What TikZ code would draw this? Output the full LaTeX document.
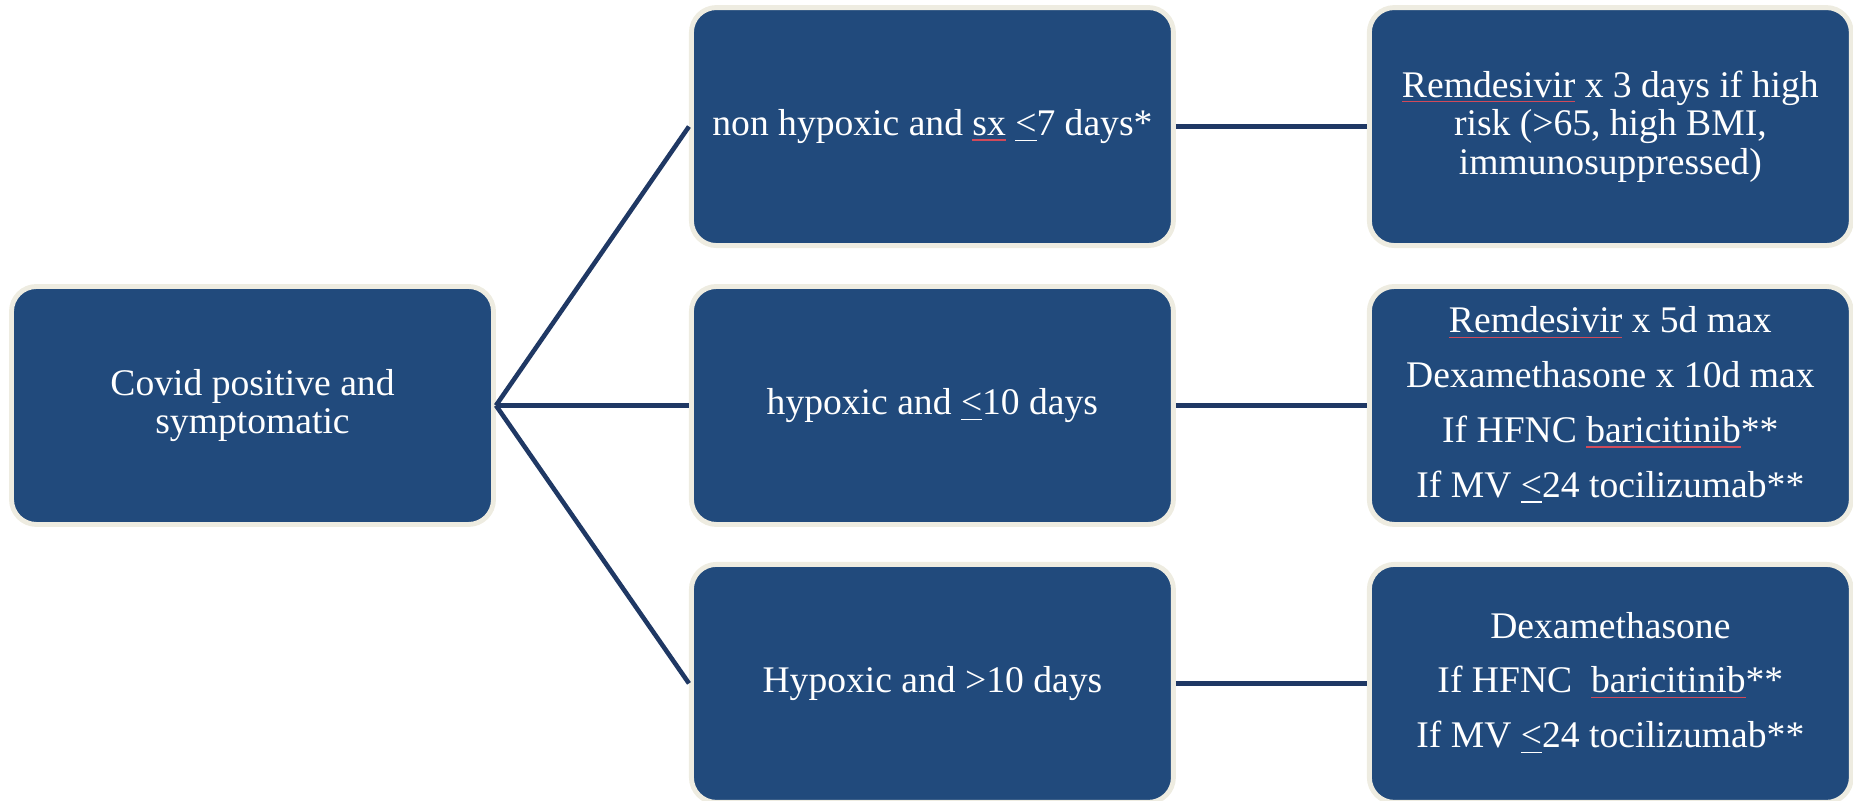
\documentclass[tikz,border=0pt]{standalone}
\usepackage{fontspec}
\setmainfont{Liberation Serif}
\usepackage{tikz}
\usetikzlibrary{positioning}

\definecolor{boxblue}{HTML}{214A7C}
\definecolor{boxrim}{HTML}{EEECE1}
\definecolor{linknavy}{HTML}{1F3864}
\definecolor{spellred}{HTML}{D04A5A}

\newsavebox{\spellbox}
\newcommand{\spellmark}[1]{\sbox{\spellbox}{#1}\rlap{\textcolor{spellred}{\rule[-0.3ex]{\wd\spellbox}{0.35pt}}}\usebox{\spellbox}}
\newcommand{\ule}{\underline{<}}

\tikzset{
	stepbox/.style={draw=boxrim, line width=1.4pt, fill=boxblue,
		rounded corners=0.25cm, minimum width=4.82cm, minimum height=2.38cm,
		text=white, align=center, font=\fontsize{10.7pt}{11pt}\selectfont},
	link/.style={draw=linknavy, line width=1.3pt}
}

\begin{document}
\begin{tikzpicture}
	\useasboundingbox (0,0) rectangle (18.53,8.01);

	% first column
	\node [stepbox] (covid) at (2.525,3.955)
	{
		Covid positive and\\
		symptomatic
	};

	% second column
	\node [stepbox, right=1.93cm of covid] (hypox)
	{hypoxic and \ule10 days};
	\node [stepbox, above=0.36cm of hypox] (nonhypox)
	{non hypoxic and \spellmark{sx} \ule7 days*};
	\node [stepbox, below=0.35cm of hypox] (latehypox)
	{Hypoxic and >10 days};

	% third column
	\node [stepbox, right=1.91cm of nonhypox] (rxnonhypox)
	{
		\spellmark{Remdesivir} x 3 days if high\\
		risk (>65, high BMI,\\
		immunosuppressed)
	};
	\node [stepbox, right=1.91cm of hypox] (rxhypox)
	{
		\spellmark{Remdesivir} x 5d max\\[4.6pt]
		Dexamethasone x 10d max\\[4.6pt]
		If HFNC \spellmark{baricitinib}**\\[4.6pt]
		If MV \ule24 tocilizumab**
	};
	\node [stepbox, right=1.91cm of latehypox] (rxlatehypox)
	{
		Dexamethasone\\[4.6pt]
		If HFNC\ \ \spellmark{baricitinib}**\\[4.6pt]
		If MV \ule24 tocilizumab**
	};

	% connectors
	\draw [link] (covid.east) -- (nonhypox.west);
	\draw [link] (covid.east) -- (hypox.west);
	\draw [link] (covid.east) -- (latehypox.west);
	\draw [link] (nonhypox.east) -- (rxnonhypox.west);
	\draw [link] (hypox.east) -- (rxhypox.west);
	\draw [link] (latehypox.east) -- (rxlatehypox.west);
\end{tikzpicture}
\end{document}
